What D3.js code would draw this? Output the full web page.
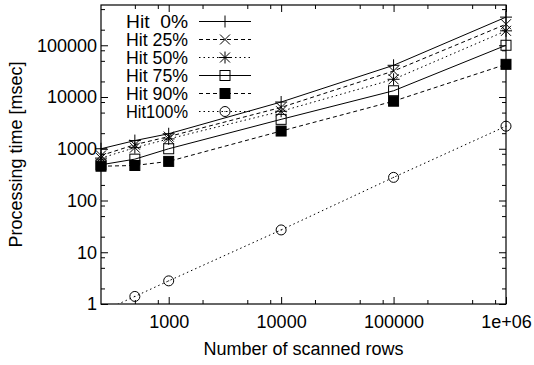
<!DOCTYPE html>
<html>
<head>
<meta charset="utf-8">
<script src="https://cdn.jsdelivr.net/npm/d3@7.9.0/dist/d3.min.js"></script>
<style>
  body { margin: 0; background: #fff; }
  text { font-family: "Liberation Sans", Arial, sans-serif; font-size: 18px; fill: #000; white-space: pre; }
</style>
</head>
<body>
<div id="chart"></div>
<script>
// scanned rows
const rows = [250, 500, 1000, 10000, 100000, 1000000];

// processing time [msec] per hit ratio
const hit0 = [1000, 1440, 1950, 8000, 41000, 350000];
const hit25 = [740, 1200, 1720, 6300, 31800, 255000];
const hit50 = [660, 1050, 1550, 5300, 22000, 190000];
const hit75 = [490, 630, 1000, 3700, 13200, 100000];
const hit90 = [460, 475, 570, 2200, 8300, 42800];
const hit100 = [0.7, 1.4, 2.8, 27, 280, 2730];

const seriesNames = ['Hit  0%', 'Hit 25%', 'Hit 50%', 'Hit 75%', 'Hit 90%', 'Hit100%'];
const seriesValues = [hit0, hit25, hit50, hit75, hit90, hit100];

const xTicks = [1000, 10000, 100000, 1000000];
const xTickLabels = ['1000', '10000', '100000', '1e+06'];
const yTicks = [1, 10, 100, 1000, 10000, 100000];
const yTickLabels = ['1', '10', '100', '1000', '10000', '100000'];

const width = 534;
const height = 365;

const plot = { left: 101, right: 506, top: 5, bottom: 304 };

const svg = d3.select('#chart')
  .append('svg')
  .attr('width', width)
  .attr('height', height);

const xScale = d3.scaleLog().domain([250, 1e6]).range([plot.left, plot.right]);
const yScale = d3.scaleLog().domain([1, 6e5]).range([plot.bottom, plot.top]);

// line styles cycle solid / dashed / dotted
const dashes = [null, '4,3', '1.5,3', null, '4,3', '1.5,3'];
const markers = ['plus', 'cross', 'star', 'box', 'fbox', 'circle'];

function minorTicks(scale) {
  const [a, b] = scale.domain();
  const out = [];
  for (let p = Math.floor(Math.log10(a)); p <= Math.ceil(Math.log10(b)); p++) {
    for (const m of [2, 5, 8]) {
      const v = m * Math.pow(10, p);
      if (v > a && v < b) out.push(v);
    }
  }
  return out;
}

// axes: major + minor ticks, inward, mirrored
svg.append('g')
  .attr('transform', `translate(0, ${plot.bottom})`)
  .call(d3.axisBottom(xScale).tickValues(xTicks).tickSize(-7).tickSizeOuter(0).tickPadding(11)
    .tickFormat((d, i) => xTickLabels[i]));
svg.append('g')
  .attr('transform', `translate(0, ${plot.bottom})`)
  .call(d3.axisBottom(xScale).tickValues(minorTicks(xScale)).tickSize(-4).tickSizeOuter(0).tickFormat(''));
svg.append('g')
  .attr('transform', `translate(0, ${plot.top})`)
  .call(d3.axisTop(xScale).tickValues(xTicks).tickSize(-7).tickSizeOuter(0).tickFormat(''));
svg.append('g')
  .attr('transform', `translate(0, ${plot.top})`)
  .call(d3.axisTop(xScale).tickValues(minorTicks(xScale)).tickSize(-4).tickSizeOuter(0).tickFormat(''));

svg.append('g')
  .attr('transform', `translate(${plot.left}, 0)`)
  .call(d3.axisLeft(yScale).tickValues(yTicks).tickSize(-7).tickSizeOuter(0).tickPadding(4)
    .tickFormat((d, i) => yTickLabels[i]));
svg.append('g')
  .attr('transform', `translate(${plot.left}, 0)`)
  .call(d3.axisLeft(yScale).tickValues(minorTicks(yScale)).tickSize(-4).tickSizeOuter(0).tickFormat(''));
svg.append('g')
  .attr('transform', `translate(${plot.right}, 0)`)
  .call(d3.axisRight(yScale).tickValues(yTicks).tickSize(-7).tickSizeOuter(0).tickFormat(''));
svg.append('g')
  .attr('transform', `translate(${plot.right}, 0)`)
  .call(d3.axisRight(yScale).tickValues(minorTicks(yScale)).tickSize(-4).tickSizeOuter(0).tickFormat(''));

svg.selectAll('.domain').remove();
svg.selectAll('.tick line').attr('stroke', '#000').attr('stroke-width', 1);
svg.selectAll('.tick text').attr('font-size', 18).attr('font-family', '"Liberation Sans", Arial, sans-serif');

svg.append('rect')
  .attr('x', plot.left)
  .attr('y', plot.top)
  .attr('width', plot.right - plot.left)
  .attr('height', plot.bottom - plot.top)
  .attr('fill', 'none')
  .attr('stroke', '#000')
  .attr('stroke-width', 1.2);

// axis titles
svg.append('text')
  .attr('x', (plot.left + plot.right) / 2)
  .attr('y', 355)
  .attr('text-anchor', 'middle')
  .text('Number of scanned rows');

svg.append('text')
  .attr('transform', `translate(22, ${(plot.top + plot.bottom) / 2}) rotate(-90)`)
  .attr('text-anchor', 'middle')
  .text('Processing time [msec]');

function drawMarker(g, type, x, y) {
  const s = 5;
  let el;
  if (type === 'plus') {
    el = g.append('path').attr('d', `M${x - 6},${y}h12M${x},${y - 6}v12`);
  } else if (type === 'cross') {
    el = g.append('path').attr('d', `M${x - s},${y - s}L${x + s},${y + s}M${x - s},${y + s}L${x + s},${y - s}`);
  } else if (type === 'star') {
    el = g.append('path').attr('d',
      `M${x - 6},${y}h12M${x},${y - 6}v12M${x - s},${y - s}L${x + s},${y + s}M${x - s},${y + s}L${x + s},${y - s}`);
  } else if (type === 'box' || type === 'fbox') {
    el = g.append('rect').attr('x', x - s).attr('y', y - s).attr('width', 2 * s).attr('height', 2 * s);
  } else {
    el = g.append('circle').attr('cx', x).attr('cy', y).attr('r', s);
    g.append('circle').attr('cx', x).attr('cy', y).attr('r', 0.6).attr('fill', '#000');
  }
  el.attr('stroke', '#000').attr('stroke-width', 1).attr('fill', type === 'fbox' ? '#000' : 'none');
}

svg.append('clipPath')
  .attr('id', 'clip')
  .append('rect')
  .attr('x', plot.left)
  .attr('y', plot.top)
  .attr('width', plot.right - plot.left)
  .attr('height', plot.bottom - plot.top);

const line = d3.line()
  .x((d) => xScale(d[0]))
  .y((d) => yScale(d[1]));

const [yMin, yMax] = yScale.domain();

seriesValues.forEach((vals, i) => {
  const pts = rows.map((r, j) => [r, vals[j]]);
  svg.append('path')
    .attr('d', line(pts))
    .attr('clip-path', 'url(#clip)')
    .attr('fill', 'none')
    .attr('stroke', '#000')
    .attr('stroke-width', 1)
    .attr('stroke-dasharray', dashes[i]);

  const g = svg.append('g');
  pts.filter((p) => p[1] >= yMin && p[1] <= yMax)
    .forEach((p) => drawMarker(g, markers[i], xScale(p[0]), yScale(p[1])));
});

// legend
const legend = svg.append('g');
seriesNames.forEach((name, i) => {
  const y = 21.5 + i * 18;
  legend.append('text')
    .attr('x', 188)
    .attr('y', y)
    .attr('dy', '0.36em')
    .attr('text-anchor', 'end')
    .attr('font-size', 15.5)
    .attr('textLength', 62)
    .attr('lengthAdjust', 'spacingAndGlyphs')
    .text(name);
  legend.append('line')
    .attr('x1', 199)
    .attr('x2', 251)
    .attr('y1', y)
    .attr('y2', y)
    .attr('stroke', '#000')
    .attr('stroke-width', 1)
    .attr('stroke-dasharray', dashes[i]);
  drawMarker(legend, markers[i], 225, y);
});
</script>
</body>
</html>
